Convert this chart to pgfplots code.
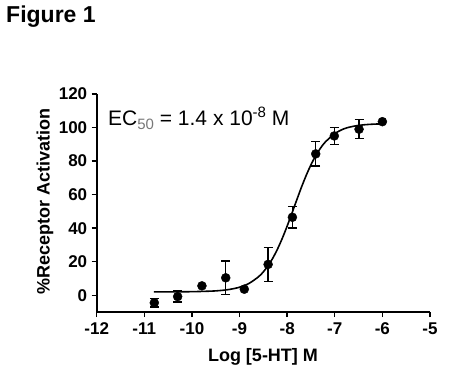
\documentclass[border=0pt]{standalone}
\usepackage{pgfplots}
\pgfplotsset{compat=1.18}
\usepackage{fontspec}
\setmainfont{Liberation Sans}
\definecolor{subgrey}{RGB}{120,120,120}
\begin{document}
\begin{tikzpicture}
\path[use as bounding box] (0pt,0pt) rectangle (452pt,-380pt);
\node[anchor=base west, font=\fontsize{23}{23}\selectfont\bfseries, inner sep=0pt] at (6pt,-23pt) {Figure 1};
\begin{axis}[
  at={(96.7pt,-312pt)}, anchor=south west,
  scale only axis, width=333.3pt, height=218pt,
  xmin=-12, xmax=-5, ymin=-10, ymax=120,
  axis lines=left, axis line style={-, line width=1.6pt},
  xtick={-12,-11,...,-5}, ytick={0,20,...,120},
  tick style={black, line width=1.4pt}, tick align=outside, major tick length=5pt,
  ticklabel style={font=\fontsize{17}{17}\selectfont\bfseries},
  /pgf/number format/assume math mode=true,
  xticklabel style={yshift=-2pt},
  yticklabel style={xshift=-1pt},
  clip=false,
]
\addplot[black, line width=1.6pt, smooth] coordinates {
(-10.8,2.01) (-10.4,2.04) (-10.0,2.13) (-9.6,2.45) (-9.4,2.82) (-9.2,3.52) (-9.0,4.79)
(-8.8,7.07) (-8.6,11.05) (-8.5,13.95) (-8.4,17.63) (-8.3,22.2) (-8.2,27.70) (-8.1,34.09)
(-8.0,41.24) (-7.9,48.89) (-7.8,56.71) (-7.7,64.39) (-7.6,71.47) (-7.5,77.79) (-7.4,83.22)
(-7.3,87.70) (-7.2,91.33) (-7.0,96.37) (-6.8,99.33) (-6.6,100.8) (-6.4,101.6) (-6.2,102.0) (-6.0,102.2)
};
\addplot[black, only marks, mark=*, mark size=4.5pt,
  error bars/.cd, y dir=both, y explicit,
  error bar style={line width=1.3pt},
  error mark options={rotate=90, mark size=4.5pt, line width=1.3pt}]
  table[x=x, y=y, y error=e] {
x y e
-10.79 -4.5 2.5
-10.30 -0.8 3.3
-9.29 10.4 10.0
-8.40 18.4 10.2
-7.89 46.5 6.4
-7.40 84.3 7.2
-7.01 95.0 5.0
-6.49 99.0 5.6
};
\addplot[black, only marks, mark=*, mark size=4.5pt] table[x=x, y=y] {
x y
-9.79 5.6
-8.90 3.6
-6.00 103.5
};
\end{axis}
\node[anchor=base west, font=\fontsize{21}{21}\selectfont, inner sep=0pt] at (108pt,-125pt)
  {EC{\color{subgrey}\raisebox{-4pt}{\fontsize{15}{15}\selectfont 50}} = 1.4 x 10\raisebox{8pt}{\fontsize{15}{15}\selectfont -8} M};
\node[rotate=90, font=\fontsize{18}{18}\selectfont\bfseries, inner sep=0pt] at (45pt,-201pt) {\%Receptor Activation};
\node[font=\fontsize{18}{18}\selectfont\bfseries, inner sep=0pt] at (263pt,-357pt) {Log [5-HT] M};
\end{tikzpicture}
\end{document}
